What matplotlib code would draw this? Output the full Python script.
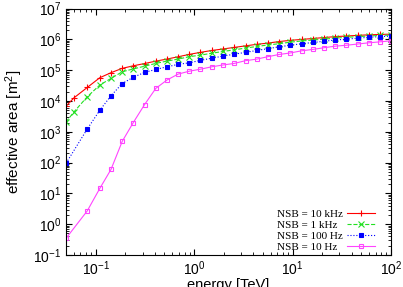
import numpy as np
import matplotlib
matplotlib.use('Agg')
import matplotlib.pyplot as plt
from matplotlib.ticker import LogLocator

# energy bins [TeV]
energy = [0.05, 0.06, 0.082, 0.11, 0.143, 0.186, 0.241, 0.314, 0.408, 0.53,
          0.689, 0.896, 1.16, 1.51, 1.97, 2.56, 3.33, 4.33, 5.62, 7.31,
          9.5, 12.4, 16.1, 20.9, 27.1, 35.3, 45.9, 59.6, 77.5, 100.0]

# effective area [m^2] for each NSB rate
area_10khz = [6800, 12600, 27500, 57000, 83000, 115000, 139000, 165000, 197000, 230000,
              273000, 327000, 380000, 437000, 490000, 550000, 617000, 692000, 759000, 851000,
              933000, 1.0e6, 1.07e6, 1.15e6, 1.23e6, 1.29e6, 1.35e6, 1.41e6, 1.45e6, 1.48e6]
area_1khz = [2100, 4400, 13700, 33000, 54000, 89000, 110000, 135000, 166000, 198000,
             230000, 275000, 309000, 355000, 407000, 457000, 525000, 589000, 661000, 724000,
             813000, 891000, 955000, 1.02e6, 1.10e6, 1.17e6, 1.23e6, 1.29e6, 1.35e6, 1.38e6]
area_100hz = [96, np.nan, 1230, 5000, 14800, 37000, 59000, 85000, 106000, 129000,
              155000, 174000, 209000, 245000, 288000, 331000, 380000, 437000, 501000, 575000,
              646000, 724000, 794000, 871000, 955000, 1.02e6, 1.10e6, 1.17e6, 1.23e6, 1.28e6]
area_10hz = [0.35, np.nan, 2.7, 14.5, 60, 490, 2000, 7700, 25700, 48000,
             75000, 93000, 108000, 129000, 148000, 166000, 204000, 229000, 275000, 324000,
             363000, 427000, 473000, 537000, 603000, 646000, 708000, 776000, 832000, 900000]

series = [
    ('NSB = 10 kHz', area_10khz, '#ff0000', '-', '+', 'none'),
    ('NSB = 1 kHz', area_1khz, '#22e022', '--', 'x', 'none'),
    ('NSB = 100 Hz', area_100hz, '#0000ff', ':', 's', '#0000ff'),
    ('NSB = 10 Hz', area_10hz, '#ff44ff', '-', 's', 'none'),
]

plt.rcParams['font.family'] = ['Liberation Sans', 'DejaVu Sans']
plt.rcParams['mathtext.fontset'] = 'custom'
plt.rcParams['mathtext.rm'] = 'Liberation Sans'
plt.rcParams['mathtext.it'] = 'Liberation Sans:italic'
plt.rcParams['mathtext.bf'] = 'Liberation Sans:bold'

fig = plt.figure(figsize=(4.03, 2.87), dpi=100)
ax = fig.add_axes([0.164, 0.1115, 0.806, 0.8585])

x = np.array(energy)
for label, vals, col, ls, mk, mfc in series:
    y = np.array(vals, dtype=float)
    ok = ~np.isnan(y)
    ms = 3.5 if mk == 's' else 4.5
    if mfc != 'none':
        ms = 2.8
    ax.plot(x[ok], y[ok], color=col, linestyle=ls, linewidth=0.8,
            marker=mk, markersize=ms, markerfacecolor=mfc,
            markeredgecolor=col, markeredgewidth=0.8, label=label)

ax.set_xscale('log')
ax.set_yscale('log')
ax.set_xlim(0.05, 100)
ax.set_ylim(0.1, 1e7)

ax.yaxis.set_major_locator(LogLocator(base=10, numticks=20))
ax.yaxis.set_minor_locator(LogLocator(base=10, subs=np.arange(2, 10), numticks=20))
ax.tick_params(which='both', direction='in', top=True, right=True, labelsize=10)
ax.tick_params(which='major', length=4)
ax.tick_params(which='minor', length=2)
for s in ax.spines.values():
    s.set_linewidth(0.8)

ax.set_xlabel('energy [TeV]', fontsize=10.5, labelpad=0)
ax.set_ylabel('effective area [m$^2$]', fontsize=11, labelpad=6)

leg = ax.legend(loc='lower right', bbox_to_anchor=(0.962, 0.0), frameon=False,
                markerfirst=False, prop={'family': 'Liberation Serif', 'size': 8},
                handlelength=2.5, labelspacing=0.1, borderaxespad=0.0,
                borderpad=0.3, handletextpad=0.45)

# left-align the label texts (gnuplot style), keep the line samples in one column
fig.canvas.draw()
r = fig.canvas.get_renderer()
widths = [t.get_window_extent(r).width for t in leg.get_texts()]
maxw = max(widths)
col = leg._legend_handle_box.get_children()[0]
col.align = 'left'
for row, w in zip(col.get_children(), widths):
    row.sep += (maxw - w) * 72.0 / fig.dpi

fig.savefig('out.png', dpi=100)
